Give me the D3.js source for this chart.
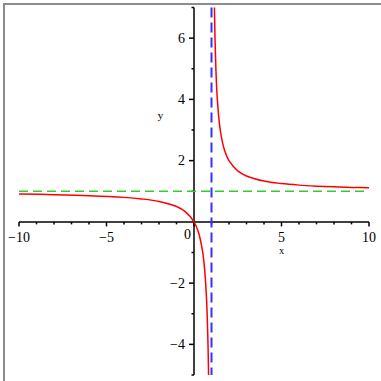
<!DOCTYPE html>
<html><head><meta charset="utf-8">
<script src="https://cdn.jsdelivr.net/npm/d3@7"></script>
<style>html,body{margin:0;padding:0;background:#fff}svg{display:block}</style>
</head><body>
<svg id="c" width="381" height="381"></svg>
<script>
// Data
const leftX  = [-10,-8,-6,-4,-3,-2,-1,-0.5,0,0.25,0.5,0.6,0.7,0.75,0.8,0.833];
const leftY  = [0.909,0.889,0.857,0.8,0.75,0.667,0.5,0.333,0,-0.333,-1,-1.5,-2.33,-3,-4,-5];
const rightX = [1.167,1.2,1.25,1.333,1.5,1.75,2,2.5,3,4,5,6,7,8,9,10];
const rightY = [7,6,5,4,3,2.33,2,1.667,1.5,1.333,1.25,1.2,1.167,1.143,1.125,1.111];
const hAsym = 1;   // horizontal asymptote y
const vAsym = 1;   // vertical asymptote x
const xMajor = [-10,-5,0,5,10];
const xMinor = d3.range(-10,11,1);
const yMajor = [-4,-2,2,4,6];
const yMinor = [-5,-3,-1,1,3,5,7];

const svg = d3.select("#c");
const x = d3.scaleLinear().domain([-10,10]).range([19,369]);
const y = d3.scaleLinear().domain([-5,7]).range([375,7.5]);

// frame
svg.append("line").attr("x1",4).attr("x2",381).attr("y1",4).attr("y2",4).attr("stroke","#8c8c8c").attr("stroke-width",2);
svg.append("line").attr("x1",4).attr("x2",4).attr("y1",3).attr("y2",381).attr("stroke","#8c8c8c").attr("stroke-width",2);

const font = "'Liberation Serif','DejaVu Serif',serif";
const x0 = x(0), y0 = y(0);

// x axis
svg.append("line").attr("x1",x(-10)).attr("x2",x(10)).attr("y1",y0).attr("y2",y0).attr("stroke","#000").attr("stroke-width",1.5);
svg.selectAll(".xmin").data(xMinor).enter().append("line")
  .attr("x1",d=>x(d)).attr("x2",d=>x(d)).attr("y1",y0).attr("y2",d=>y0+(xMajor.includes(d)?4.5:2.5))
  .attr("stroke","#000").attr("stroke-width",1.5);
svg.selectAll(".xl").data(xMajor).enter().append("text")
  .attr("x",d=>d===0?x(d)-6.5:x(d)).attr("y",d=>d===0?239:241.5)
  .attr("text-anchor","middle").attr("font-family",font).attr("font-size",14)
  .text(d=>d<0?"\u2212"+Math.abs(d):String(d));
svg.append("text").attr("x",x(5)).attr("y",254).attr("text-anchor","middle")
  .attr("font-family",font).attr("font-size",10.5).text("x");

// y axis
svg.append("line").attr("x1",x0).attr("x2",x0).attr("y1",y(7)).attr("y2",y(-5)).attr("stroke","#000").attr("stroke-width",1.5);
svg.selectAll(".ymin").data(yMinor.concat(yMajor)).enter().append("line")
  .attr("y1",d=>y(d)).attr("y2",d=>y(d)).attr("x1",x0).attr("x2",d=>x0-(yMajor.includes(d)?5:2.5))
  .attr("stroke","#000").attr("stroke-width",1.5);
svg.selectAll(".yl").data(yMajor).enter().append("text")
  .attr("x",185).attr("y",d=>y(d)+4.5)
  .attr("text-anchor","end").attr("font-family",font).attr("font-size",14)
  .text(d=>d<0?"\u2212"+Math.abs(d):String(d));
svg.append("text").attr("x",160.5).attr("y",119).attr("text-anchor","middle")
  .attr("font-family",font).attr("font-size",11).text("y");

// asymptotes
svg.append("line").attr("x1",x(-10)).attr("x2",x(10)).attr("y1",y(hAsym)).attr("y2",y(hAsym))
  .attr("stroke","#33cc33").attr("stroke-width",1.5).attr("stroke-dasharray","9,5");
svg.append("line").attr("x1",x(vAsym)).attr("x2",x(vAsym)).attr("y1",y(7)).attr("y2",y(-5))
  .attr("stroke","#3333ff").attr("stroke-width",2).attr("stroke-dasharray","10,5");

// curves
const line = d3.line().x(d=>x(d[0])).y(d=>y(d[1])).curve(d3.curveCatmullRom.alpha(0.5));
svg.append("path").datum(leftX.map((v,i)=>[v,leftY[i]])).attr("d",line)
  .attr("fill","none").attr("stroke","#ff0000").attr("stroke-width",1.5);
svg.append("path").datum(rightX.map((v,i)=>[v,rightY[i]])).attr("d",line)
  .attr("fill","none").attr("stroke","#ff0000").attr("stroke-width",1.5);
</script>
</body></html>
